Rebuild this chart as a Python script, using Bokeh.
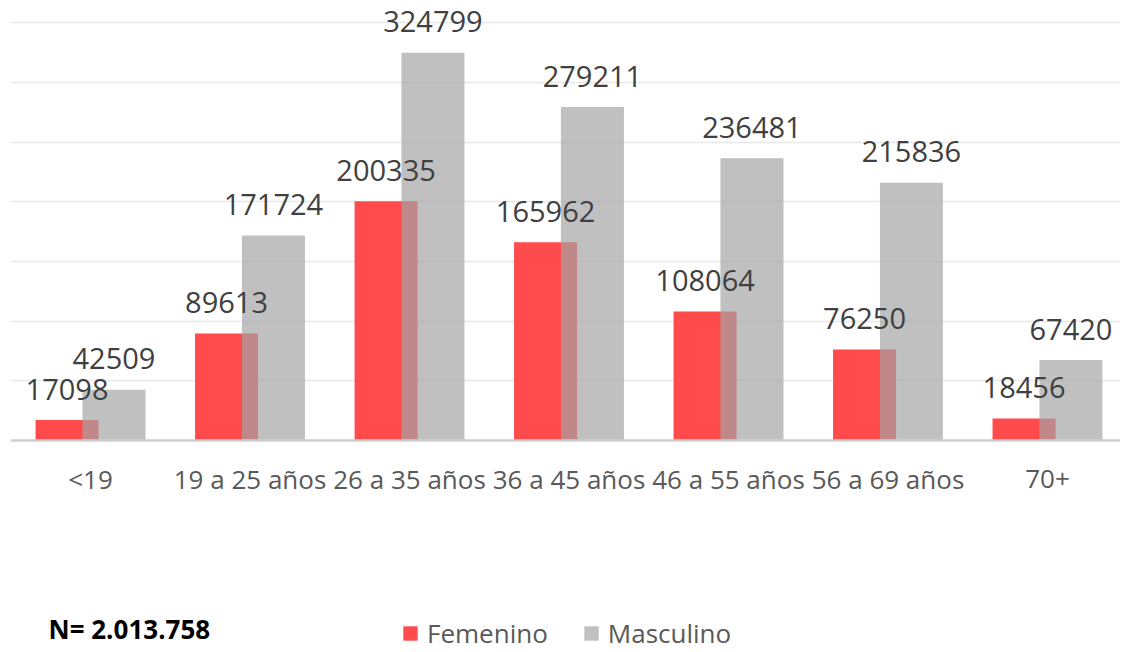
from bokeh.plotting import figure
from bokeh.models import (Range1d, FixedTicker, Legend, LegendItem, Label,
                          Grid, ColumnDataSource, Span)
from bokeh.transform import dodge
from bokeh.embed import file_html
from bokeh.resources import INLINE
from bokeh.core.properties import value

categories = ["<19", "19 a 25 años", "26 a 35 años", "36 a 45 años",
              "46 a 55 años", "56 a 69 años", "70+"]
femenino = [17098, 89613, 200335, 165962, 108064, 76250, 18456]
masculino = [42509, 171724, 324799, 279211, 236481, 215836, 67420]
series_names = ["Femenino", "Masculino"]
grid_ticks = [50000, 100000, 150000, 200000, 250000, 300000, 350000]
n_text = "N= 2.013.758"

FONT = "Open Sans"
idx = list(range(len(categories)))
src = ColumnDataSource(dict(
    idx=idx, fem=femenino, mas=masculino, cat=categories, zero=[0] * len(idx),
    fem_t=[str(v) for v in femenino], mas_t=[str(v) for v in masculino]))

p = figure(width=1120, height=652, output_backend="svg", toolbar_location=None,
           x_range=Range1d(-0.5016, 6.4577), y_range=Range1d(-177510, 368500),
           x_axis_location=None, y_axis_location=None,
           min_border_left=10, min_border_right=0,
           min_border_top=0, min_border_bottom=0)
p.outline_line_color = None
p.center = [r for r in p.center if not isinstance(r, Grid)]
p.add_layout(Grid(dimension=1, ticker=FixedTicker(ticks=grid_ticks),
                  grid_line_color="#E8E8E8", grid_line_width=1.5))

off = 0.147
w = 0.395
r_f = p.vbar(x=dodge("idx", -off, range=p.x_range), top="fem", width=w, bottom=0,
             source=src, fill_color="#FF4B4B", line_color=None)
r_m = p.vbar(x=dodge("idx", off, range=p.x_range), top="mas", width=w, bottom=0,
             source=src, fill_color="#A3A3A3", fill_alpha=0.69, line_color=None)

# baseline (category axis line)
p.add_layout(Span(location=0, dimension="width", line_color="#CFCFCF", line_width=2.5))

p.text(x=dodge("idx", -off, range=p.x_range), y="fem", text="fem_t", source=src,
       text_font=value(FONT), text_font_size="29px", text_color="#404040",
       text_align="center", text_baseline="alphabetic", y_offset=-31)
p.text(x=dodge("idx", off, range=p.x_range), y="mas", text="mas_t", source=src,
       text_font=value(FONT), text_font_size="29px", text_color="#404040",
       text_align="center", text_baseline="alphabetic", y_offset=-31)

# category labels
p.text(x="idx", y="zero", text="cat", source=src,
       text_font=value(FONT), text_font_size="26px", text_color="#595959",
       text_align="center", text_baseline="middle", y_offset=38)

legend = Legend(items=[LegendItem(label=series_names[0], renderers=[r_f]),
                       LegendItem(label=series_names[1], renderers=[r_m])],
                orientation="horizontal", location=(391, 1),
                glyph_width=18, glyph_height=18, label_height=20,
                label_standoff=8, spacing=34, padding=0, margin=0,
                border_line_color=None, background_fill_alpha=0,
                label_text_font=FONT, label_text_font_size="26px",
                label_text_color="#595959")
p.add_layout(legend)

p.add_layout(Label(x=38, y=24, x_units="screen", y_units="screen", text=n_text,
                   text_font=FONT, text_font_size="26px", text_font_style="bold",
                   text_color="#000000", text_baseline="middle"))

open("out.html", "w").write(file_html(p, INLINE))
